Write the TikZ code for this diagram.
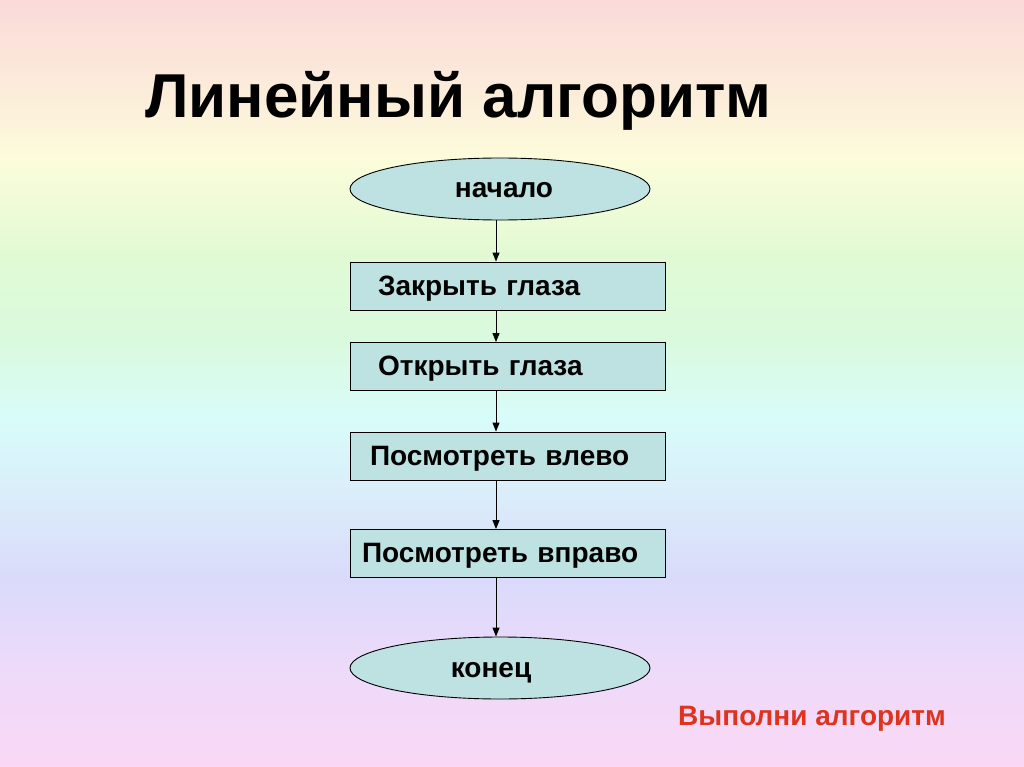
\documentclass[tikz,border=0pt]{standalone}
\usepackage{fontspec}
\setmainfont{Liberation Sans}
\usetikzlibrary{shapes.geometric,arrows.meta}
\definecolor{bg0}{RGB}{250,218,218}
\definecolor{bg1}{RGB}{252,238,218}
\definecolor{bg2}{RGB}{252,252,218}
\definecolor{bg3}{RGB}{224,250,212}
\definecolor{bg4}{RGB}{218,250,222}
\definecolor{bg5}{RGB}{216,252,250}
\definecolor{bg6}{RGB}{218,236,250}
\definecolor{bg7}{RGB}{218,218,250}
\definecolor{bg8}{RGB}{236,218,250}
\definecolor{bg9}{RGB}{250,216,246}
\definecolor{boxfill}{RGB}{190,226,226}
\definecolor{redtext}{RGB}{222,52,30}
\tikzset{
  x=1pt,y=-1pt,
  term/.style={ellipse,draw=black,line width=0.9pt,fill=boxfill,minimum width=300,minimum height=62,inner sep=0pt,
    text height=19.5pt,text depth=1.5pt,font=\fontsize{28}{30}\selectfont\bfseries},
  stepbox/.style={rectangle,draw=black,line width=0.9pt,fill=boxfill,minimum height=48,text width=315,inner xsep=0pt,inner ysep=0pt,align=left,
    text height=19.5pt,text depth=1.5pt,font=\fontsize{28}{30}\selectfont\bfseries},
  conn/.style={draw=black,line width=1pt,-{Triangle[length=9pt,width=7pt]}},
}
\begin{document}
\begin{tikzpicture}
\useasboundingbox (0,0) rectangle (1024,767);
% background
\shade[top color=bg0,bottom color=bg1] (0,0) rectangle (1024,100);
\shade[top color=bg1,bottom color=bg2] (0,99.5) rectangle (1024,160);
\shade[top color=bg2,bottom color=bg3] (0,159.5) rectangle (1024,260);
\shade[top color=bg3,bottom color=bg4] (0,259.5) rectangle (1024,340);
\shade[top color=bg4,bottom color=bg5] (0,339.5) rectangle (1024,420);
\shade[top color=bg5,bottom color=bg6] (0,419.5) rectangle (1024,500);
\shade[top color=bg6,bottom color=bg7] (0,499.5) rectangle (1024,580);
\shade[top color=bg7,bottom color=bg8] (0,579.5) rectangle (1024,660);
\shade[top color=bg8,bottom color=bg9] (0,659.5) rectangle (1024,767);
% title
\node[anchor=base west,inner sep=0pt,font=\fontsize{62}{66}\selectfont\bfseries] (title) at (145,118) {Линейный алгоритм};
% flow
\node[term] (n0) at (500,189) {\hspace*{8pt}начало};
\node[stepbox] (b1) at (507.5,286) {\hspace*{28pt}Закрыть глаза};
\node[stepbox] (b2) at (507.5,366.5) {\hspace*{28pt}Открыть глаза};
\node[stepbox] (b3) at (507.5,456) {\hspace*{20pt}Посмотреть влево};
\node[stepbox] (b4) at (507.5,553.5) {\hspace*{12pt}Посмотреть вправо};
\node[term] (n1) at (500,668) {конец\hspace*{18pt}};
\coordinate (ax) at (496,0);
\draw[conn] (n0.south -| ax) -- (b1.north -| ax);
\draw[conn] (b1.south -| ax) -- (b2.north -| ax);
\draw[conn] (b2.south -| ax) -- (b3.north -| ax);
\draw[conn] (b3.south -| ax) -- (b4.north -| ax);
\draw[conn] (b4.south -| ax) -- (n1.north -| ax);
% note
\node[anchor=base west,inner sep=0pt,text=redtext,font=\fontsize{28}{30}\selectfont\bfseries] (note) at (678,725) {Выполни алгоритм};
\end{tikzpicture}
\end{document}
